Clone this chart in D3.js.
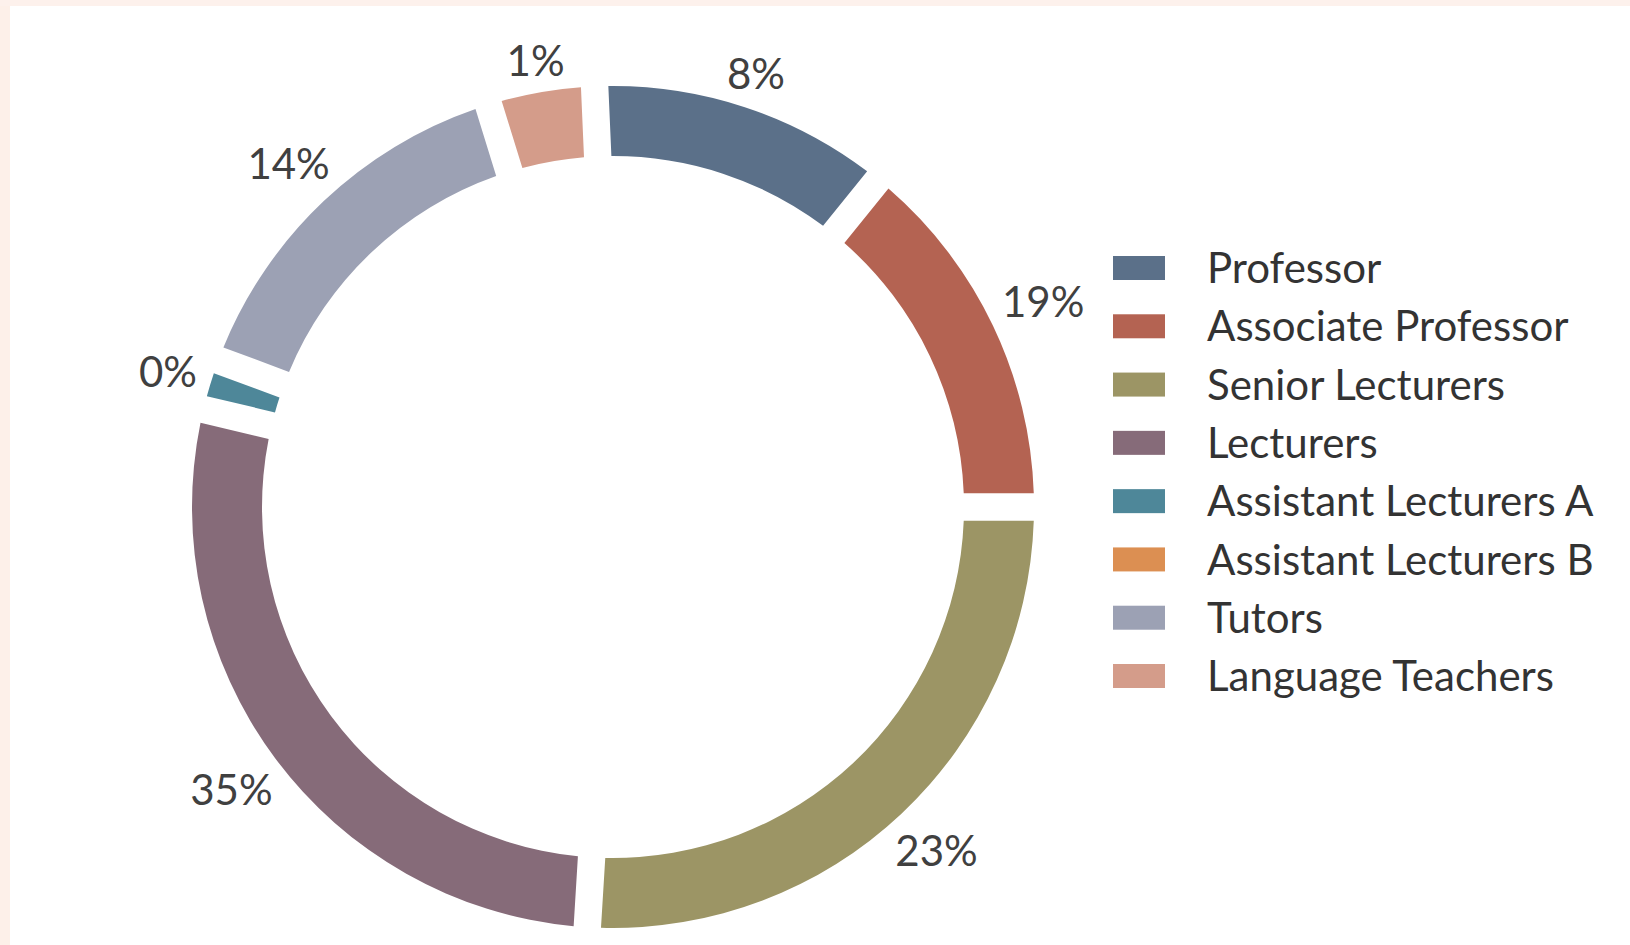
<!DOCTYPE html>
<html>
<head>
<meta charset="utf-8">
<script src="https://cdn.jsdelivr.net/npm/d3@7"></script>
<style>
  html, body { margin: 0; padding: 0; background: #fff; }
  svg { display: block; }
  text { font-family: Lato, "Open Sans", sans-serif; }
</style>
</head>
<body>
<div id="chart"></div>
<script>
/* staff categories, in legend order */
var categories = ["Professor", "Associate Professor", "Senior Lecturers", "Lecturers",
  "Assistant Lecturers A", "Assistant Lecturers B", "Tutors", "Language Teachers"];

/* size of each ring segment as it appears in the picture (degrees of the ring) */
var shares = [41.5, 51, 93.5, 99.9, 7, 0, 52.4, 14.7];

/* percentage labels printed next to the ring */
var pctLabels = ["8%", "19%", "23%", "35%", "0%", "", "14%", "1%"];

var colors = ["#5b7089", "#b46352", "#9c9565", "#866b79",
  "#4e8799", "#dc8f52", "#9ca1b4", "#d49c8a"];

var width = 1630,
  height = 945,
  cx = 613,
  cy = 507,
  outerR = 421,
  innerR = 351,
  startDeg = -2.5;

var svg = d3.select("#chart").append("svg")
  .attr("width", width)
  .attr("height", height);

// faint pink edge left over from the original slide
svg.append("rect").attr("x", 0).attr("y", 0).attr("width", 10).attr("height", height).attr("fill", "#fdf0e9");
svg.append("rect").attr("x", 0).attr("y", 0).attr("width", width).attr("height", 6).attr("fill", "#fdf1ec");

var color = d3.scaleOrdinal().domain(categories).range(colors);

var pie = d3.pie()
  .sort(null)
  .value(function(d) { return d; })
  .startAngle(startDeg * Math.PI / 180)
  .endAngle((startDeg + 360) * Math.PI / 180);

var arc = d3.arc()
  .innerRadius(innerR)
  .outerRadius(outerR)
  .padAngle(0.05);

var arcs = pie(shares);

var g = svg.append("g").attr("transform", "translate(" + cx + "," + cy + ")");

g.selectAll(".slice")
  .data(arcs)
  .enter().append("path")
    .attr("class", "slice")
    .attr("fill", function(d, i) { return color(categories[i]); })
    .attr("d", function(d) { return d.value > 0 ? arc(d) : null; });

// outside-end data labels
var lbl = g.selectAll(".pct")
  .data(arcs)
  .enter().append("text")
    .attr("class", "pct")
    .attr("text-anchor", "middle")
    .attr("dy", "0.36em")
    .attr("font-size", 42)
    .attr("fill", "#404040")
    .text(function(d, i) { return pctLabels[i]; });

lbl.each(function(d) {
  var w = this.getComputedTextLength(), h = 30;
  var a = (d.startAngle + d.endAngle) / 2;
  var r = outerR + 12 + Math.abs(Math.sin(a)) * w / 2 + Math.abs(Math.cos(a)) * h / 2;
  d3.select(this)
    .attr("x", Math.sin(a) * r)
    .attr("y", -Math.cos(a) * r);
});

// legend
var legendY = d3.scalePoint()
  .domain(categories)
  .range([268, 676]);

var legend = svg.append("g").attr("class", "legend");

var row = legend.selectAll(".row")
  .data(categories)
  .enter().append("g")
    .attr("class", "row")
    .attr("transform", function(d) { return "translate(0," + legendY(d) + ")"; });

row.append("rect")
  .attr("x", 1113)
  .attr("y", -12)
  .attr("width", 52)
  .attr("height", 24)
  .attr("fill", function(d) { return color(d); });

row.append("text")
  .attr("x", 1207)
  .attr("dy", "0.36em")
  .attr("font-size", 42)
  .attr("fill", "#333")
  .text(function(d) { return d; });
</script>
</body>
</html>
